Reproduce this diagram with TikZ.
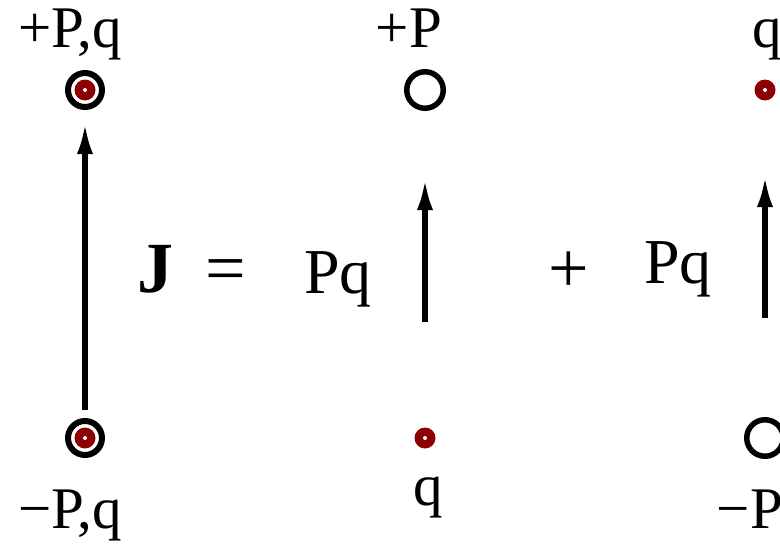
\documentclass[tikz,border=0pt]{standalone}
\usepackage{fontspec}
\setmainfont{Liberation Serif}
\usetikzlibrary{arrows.meta}
\definecolor{dotred}{RGB}{140,0,0}
\begin{document}
\begin{tikzpicture}[x=1pt,y=-1pt,
  ring/.style={circle,draw,line width=6pt,minimum size=34pt,inner sep=0pt},
  openring/.style={circle,draw,line width=5.5pt,minimum size=36.5pt,inner sep=0pt},
  reddot/.style={circle,fill=dotred,minimum size=21pt,inner sep=0pt,
    path picture={\fill[white] (path picture bounding box.center) circle (2pt);}},
  lab/.style={anchor=base,inner sep=0pt,font=\fontsize{59}{64}\selectfont},
  big/.style={anchor=base,inner sep=0pt,font=\fontsize{64}{72}\selectfont},
  sym/.style={anchor=base,inner sep=0pt,font=\fontsize{72}{80}\selectfont},
  arr/.style={line width=5.5pt,-{Latex[length=32pt,width=16pt]}}]
\useasboundingbox (0,0) rectangle (780,546);
% left column
\node[ring] (tlring) at (85,90) {};
\node[reddot] (tldot) at (85,90) {};
\node[ring] (blring) at (85,438) {};
\node[reddot] (bldot) at (85,438) {};
\node[lab] (tllab) at (70,47) {+P,q};
\node[lab] (bllab) at (70,528) {−P,q};
\draw[arr,shorten <=8pt,shorten >=12pt] (blring) -- (tlring);
% equation
\node[sym,font=\fontsize{72}{80}\selectfont\bfseries] (J) at (155,292) {J};
\node[sym] (eq) at (226,292) {=};
\node[big] (pq1) at (338,293) {Pq};
\node[sym] (plus) at (569,292) {+};
\node[big] (pq2) at (678,283) {Pq};
% middle column
\node[lab] (mtlab) at (409,47) {+P};
\node[openring] (mtop) at (425,90) {};
\node[reddot] (mbot) at (425,438) {};
\node[lab] (mblab) at (428,505) {q};
\coordinate (ma0) at (425,322);
\coordinate (ma1) at (425,178);
\draw[arr] (ma0) -- (ma1);
% right column
\node[lab] (rtlab) at (767,47) {q};
\node[reddot] (rtop) at (765,90) {};
\node[openring] (rbot) at (765,438) {};
\node[lab] (rblab) at (750,528) {−P};
\coordinate (ra0) at (765,318);
\coordinate (ra1) at (765,175);
\draw[arr] (ra0) -- (ra1);
\end{tikzpicture}
\end{document}
